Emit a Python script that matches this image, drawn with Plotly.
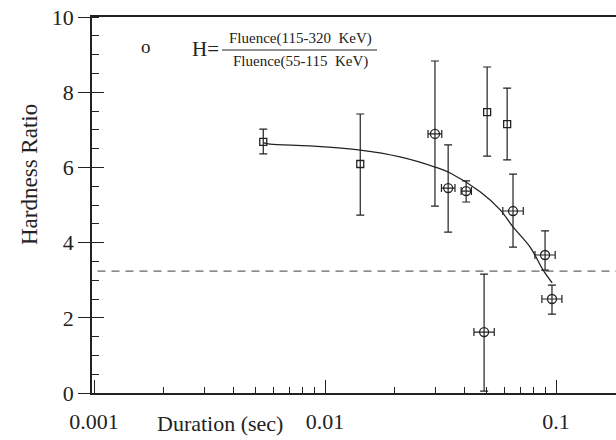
import plotly.graph_objects as go

# ---- data ----
sq_x = [0.0054, 0.0142, 0.0503, 0.0614]
sq_y = [6.68, 6.09, 7.47, 7.15]
sq_up = [0.34, 1.33, 1.20, 0.96]
sq_dn = [0.32, 1.36, 1.17, 0.95]

ci_x = [0.0299, 0.0341, 0.0408, 0.0651, 0.0896, 0.0960, 0.0488]
ci_y = [6.89, 5.45, 5.37, 4.84, 3.67, 2.50, 1.62]
ci_up = [1.94, 1.15, 0.27, 0.98, 0.64, 0.37, 1.54]
ci_dn = [1.92, 1.17, 0.29, 0.96, 0.40, 0.40, 1.57]
ci_xp = [0.0021, 0.0024, 0.0022, 0.0070, 0.0095, 0.0100, 0.0052]
ci_xm = [0.0020, 0.0022, 0.0020, 0.0063, 0.0086, 0.0092, 0.0047]

fit_x = [0.0054, 0.00578, 0.00861, 0.0142, 0.0211, 0.0299, 0.0348, 0.0469,
         0.0573, 0.0652, 0.0772, 0.0879, 0.0962]
fit_y = [6.66, 6.62, 6.57, 6.46, 6.28, 6.01, 5.85, 5.35, 4.87, 4.41, 3.88,
         3.27, 2.93]

threshold = 3.24
x_ticks = [0.001, 0.01, 0.1]
x_tick_text = ["0.001", "0.01", "0.1"]
x_minor = [m * d for d in (0.001, 0.01) for m in range(2, 10)]
y_ticks = [0, 2, 4, 6, 8, 10]

FONT = "Liberation Serif, Times New Roman, serif"
ink = "#222222"

L, T, B = 92, 17, 47
W, H = 620, 440
PW, PH = 528, 376  # plot area size (right edge just past the window)


def px(x):
    return (x - 92) / PW


def py(y):
    return (393 - y) / PH


fig = go.Figure()

fig.add_trace(go.Scatter(x=[0.0009, 0.2], y=[threshold, threshold], mode="lines",
                         line=dict(color="#666666", width=1.3, dash="8px,6px"),
                         hoverinfo="skip", showlegend=False))
fig.add_trace(go.Scatter(x=fit_x, y=fit_y, mode="lines",
                         line=dict(color=ink, width=1.3, shape="spline"),
                         showlegend=False))
fig.add_trace(go.Scatter(
    x=sq_x, y=sq_y, mode="markers",
    marker=dict(symbol="square-open", size=7, color=ink, line=dict(width=1.3)),
    error_y=dict(type="data", symmetric=False, array=sq_up, arrayminus=sq_dn,
                 color=ink, thickness=1.2, width=4),
    showlegend=False))
fig.add_trace(go.Scatter(
    x=ci_x, y=ci_y, mode="markers",
    marker=dict(symbol="circle-open", size=9, color=ink, line=dict(width=1.3)),
    error_y=dict(type="data", symmetric=False, array=ci_up, arrayminus=ci_dn,
                 color=ink, thickness=1.2, width=4),
    error_x=dict(type="data", symmetric=False, array=ci_xp, arrayminus=ci_xm,
                 color=ink, thickness=1.2, width=4),
    showlegend=False))
# invisible trace for overlaid axis (inner half of major y ticks)
fig.add_trace(go.Scatter(x=[0.01], y=[5], yaxis="y2", mode="markers",
                         marker=dict(opacity=0), hoverinfo="skip",
                         showlegend=False))


def ann(text, x, y, size, **kw):
    return dict(text=text, xref="paper", yref="paper", x=px(x), y=py(y),
                xanchor="center", yanchor="middle", showarrow=False,
                font=dict(size=size), **kw)


fig.update_layout(
    width=W, height=H,
    margin=dict(l=L, r=0, t=T, b=B),
    paper_bgcolor="white", plot_bgcolor="white",
    font=dict(family=FONT, size=22, color=ink),
    xaxis=dict(type="log", range=[-3.009, -3.009 + PW / 231], showgrid=False,
               automargin=False, ticklabeloverflow="allow",
               zeroline=False, showline=True, linecolor=ink, linewidth=1.5,
               mirror=True, tickmode="array", tickvals=x_ticks,
               ticktext=x_tick_text, ticks="inside", ticklen=13,
               tickwidth=1.3, tickcolor=ink, ticklabelstandoff=8,
               minor=dict(tickmode="array", tickvals=x_minor, ticks="inside",
                          ticklen=6, tickwidth=1.2, tickcolor=ink,
                          showgrid=False)),
    yaxis=dict(range=[0, 10], showgrid=False, zeroline=False, showline=True,
               automargin=False, ticklabeloverflow="allow", mirror=False,
               linecolor=ink, linewidth=1.5, tickmode="array",
               tickvals=y_ticks, ticks="outside", ticklen=12, tickwidth=1.3,
               tickcolor=ink,
               minor=dict(dtick=0.5, ticks="inside", ticklen=7, tickwidth=1.2,
                          tickcolor=ink, showgrid=False)),
    yaxis2=dict(range=[0, 10], overlaying="y", side="left", showgrid=False,
                automargin=False,
                zeroline=False, showline=False, tickmode="array",
                tickvals=y_ticks, ticks="inside", ticklen=12, tickwidth=1.3,
                tickcolor=ink, showticklabels=False),
    annotations=[
        ann("Duration (sec)", 220, 423, 22),
        ann("Hardness Ratio", 29, 175, 23, textangle=-90),
        ann("o", 146, 46, 19),
        ann("H=", 205, 49, 21),
        ann("Fluence(115-320  KeV)", 300, 39, 15),
        ann("Fluence(55-115  KeV)", 300, 62, 15),
    ],
    shapes=[dict(type="line", xref="paper", yref="paper",
                 x0=px(222), x1=px(377), y0=py(50), y1=py(50),
                 line=dict(color=ink, width=1.2))],
)

fig.write_html("out.html", config={"displayModeBar": False},
               post_script="document.body.style.margin='0';"
                           "document.body.style.overflow='hidden';")
